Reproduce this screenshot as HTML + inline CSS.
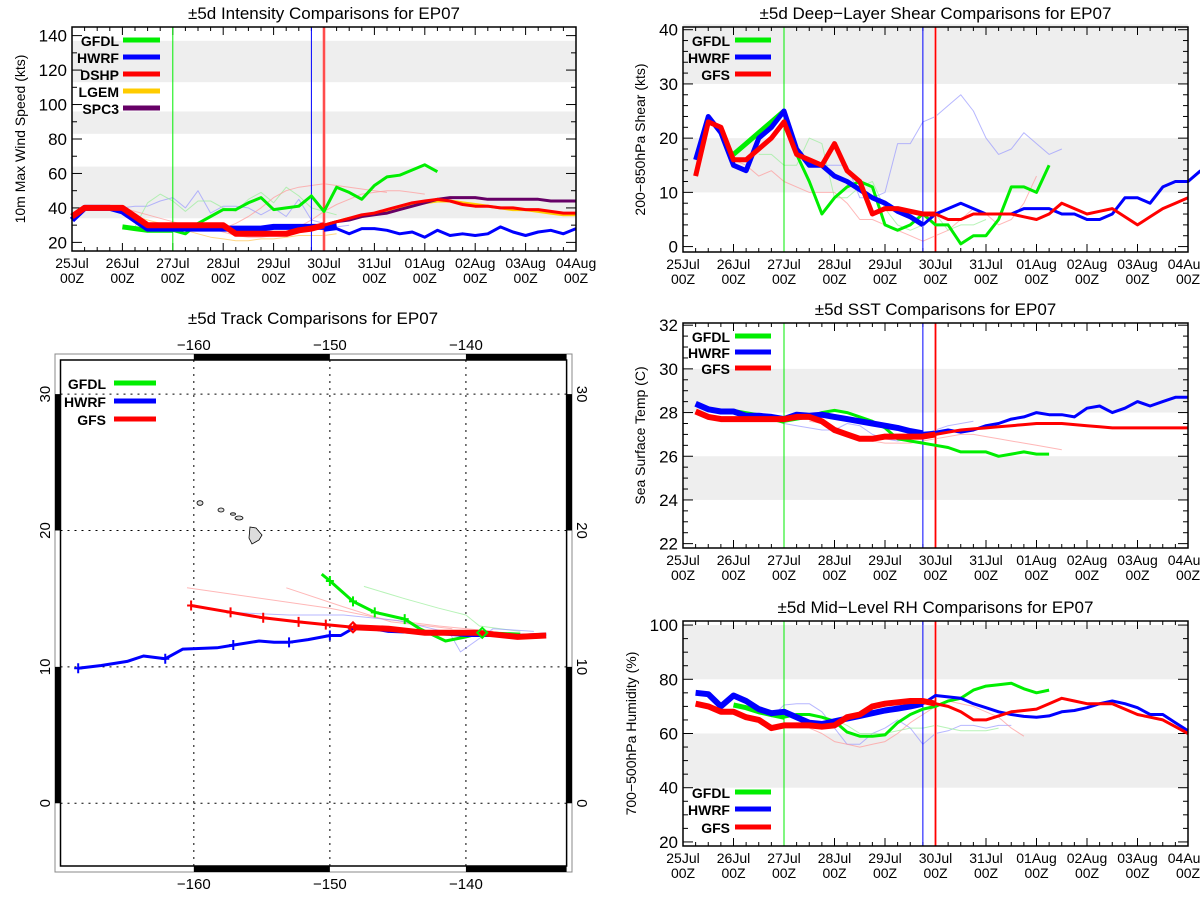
<!DOCTYPE html>
<html><head><meta charset="utf-8"><title>EP07 comparisons</title>
<style>
html,body{margin:0;padding:0;background:#fff;}
svg{display:block;font-family:"Liberation Sans",sans-serif;}
</style></head>
<body>
<svg id="fig" width="1200" height="900" viewBox="0 0 1200 900" xmlns="http://www.w3.org/2000/svg"></svg>
<script>
// ---------- DATA (days since 25Jul 00Z, 6-hourly) ----------
// Intensity
const intHwrfHist = [33,40,40,40,38,33,28,28,28,28,28,28,28,28,28,28,29,29,29,29,29,30];
const intHwrfFc = [27,28,25,28,28,27,25,26,23,27,24,25,24,25,29,26,24,26,27,25,28];
const intDshpHist = [35,40,40,40,40,35,30,30,30,30,30,30,30,25,25,25,25,25,27,28,30];
const intDshpFc = [30,32,34,36,37,39,41,43,44,45,44,42,41,41,40,40,39,39,38,37,37];
const intLgemFc = [30,32,34,35,37,38,40,42,43,44,44,43,42,41,40,39,39,38,37,36,36];
const intSpc3Fc = [30,32,33,35,36,37,39,41,43,45,46,46,46,45,45,45,45,45,44,44,44];
const intGfdlHist = [29,28,27,27,27];
const intGfdlFc = [27,25,31,35,39,39,43,46,39,40,41,47,38,52,49,45,53,58,59,62,65,61];
const intFadeBlue = [40,41,41,44,46,40,50,37,41,41,40,36,40,35,45,33,31,29,30];
const intFadeGreen = [29,43,48,44,38,44,44,40,38,45,49,43,52,47,40,38,36];
const intFadeRed1 = [40,38,36,34,32,30,28,27,28,31,35,40,46,50,52,53,54,53,52,51,50,49];
const intFadeRed2 = [30,28,26,24,23,23,24,26,29,33,38,42,45,48,49,50,50,49,48];
const intFadeOrange = [36,35,33,31,29,27,25,23,22,21,21,22,22,23,24,24,24,25];

// Shear
const shHwrfHist = [16,24,21,15,14,20,22,25,18,15,15,13,12,10.5,9,8,6.5,5.5,4];
const shHwrfFc = [4,6,7,8,7,6,6,6,7,7,7,6,6,5,5,6,9,9,8,11,12,12,14];
const shGfsHist = [13,23,22,16,16,18,20,23,17,16,15,19,14,12,6,7,7,6.5,6,6];
const shGfsFc = [6,5,5,6,6,6,6,5.5,5,6,8,7,6,6.5,7,5.5,4,5.5,7,8,9];
const shGfdlHist = [17,19,21,23,25];
const shGfdlFc = [25,17,12,6,9,11,12,11,4,3,4,6,4,4,0.5,2,2,5,11,11,10,15];
const shFadeBlue = [15,15,15,15,9,9,10,19,19,23,24,26,28,25,20,17,18,21,19,17,18];
const shFadeRed = [16,15,13,14,12,11,10,10,10,8,5,5,4,3,2,1,2,3,5,7,6,4,5,8,13];
const shFadeGreen = [17,17,15,15,20,19,9,9,11,12,7,4,3,4,6,3,4,4,5];

// SST
const sstHwrfHist = [28.4,28.15,28.05,28.05,27.85,27.85,27.8,27.7,27.9,27.85,27.9,27.8,27.7,27.6,27.5,27.4,27.3,27.15,27.05];
const sstHwrfFc = [27.05,27.1,27.2,27.1,27.2,27.4,27.5,27.7,27.8,28.0,27.9,27.9,27.8,28.2,28.3,28.0,28.2,28.5,28.3,28.5,28.7,28.7];
const sstGfsHist = [28.05,27.8,27.7,27.7,27.7,27.7,27.7,27.7,27.8,27.8,27.6,27.2,27.0,26.8,26.8,26.9,26.9,26.9,26.9,27.0];
const sstGfsFc = [27.0,27.1,27.2,27.25,27.3,27.35,27.4,27.45,27.5,27.5,27.5,27.45,27.4,27.35,27.3,27.3,27.3,27.3,27.3,27.3,27.3];
const sstGfdlHist = [28.05,27.95,27.85,27.75,27.6];
const sstGfdlFc = [27.6,27.7,27.8,28.0,28.1,28.0,27.8,27.6,27.3,26.8,26.7,26.6,26.5,26.4,26.2,26.2,26.2,26.0,26.1,26.2,26.1,26.1];
const sstFadeRed = [27.6,27.5,27.2,27.0,26.8,26.7,26.6,26.6,26.6,26.7,26.8,26.9,27.0,27.0,26.9,26.8,26.7,26.6,26.5,26.4,26.3];
const sstFadeBlue = [27.5,27.4,27.3,27.2,27.2,27.5,27.4,27.0,26.8,26.7,26.8,27.0,27.2,27.4,27.5,27.6];

// RH
const rhHwrfHist = [75,74.5,70,74,72,69,67.5,68,66,64,63.5,64.5,65.5,66.5,67.5,68.5,69.2,70,71];
const rhHwrfFc = [71,74,73.5,73,71,69.5,68,67,66.3,66,66.5,68,68.5,69.5,71,72,71,69.5,67,67,64,61];
const rhGfsHist = [71,70,68,68,66,65,62,63,63,63,62.5,63,66,67,70,71,71.5,72,72,71];
const rhGfsFc = [71,70,68,65,65,66.5,68,68.5,69,71,73,72,71,71,71,69,67,66,65,62.5,60];
const rhGfdlHist = [70.5,69.5,68,67,66];
const rhGfdlFc = [66,67,67,66,64.5,60.5,59,59,59.5,64,67,69,70,72,73,76,77.5,78,78.5,76.5,75,76];
const rhFadeBlue = [66,70.5,71,71,68,62,56,56,60,62,65,62,56,60,61,63,63,62,63,63];
const rhFadeRed = [64,63,62,60,57,56,55,56,57,60,64,67,70,72,71,70,68,66,62,59];
const rhFadeGreen = [65,63,60,60,60,61,62,62,63,62,61,61,61,62];

// Track (lon, lat)
const trkHwrfLon = [-168.5,-166.8,-164.9,-163.7,-162.1,-160.8,-158.3,-157.1,-155.2,-154.1,-153,-151.6,-150,-149.2,-148,-145.7,-143,-139.9,-136.2,-134.1];
const trkHwrfLat = [9.9,10.1,10.4,10.8,10.6,11.3,11.4,11.6,11.9,11.8,11.8,12.0,12.3,12.3,13.0,12.6,12.5,12.3,12.3,12.4];
const trkGfsLon = [-160.2,-157.3,-154.9,-152.3,-150.3,-148.3];
const trkGfsLat = [14.5,14.0,13.6,13.3,13.1,12.9];
const trkGfsHistLon = [-148.3,-145.7,-143,-139.1,-136.2,-134.1];
const trkGfsHistLat = [12.9,12.8,12.5,12.5,12.2,12.3];
const trkGfdlLon = [-150.6,-150,-148.3,-146.7,-144.5,-143.4,-141.5,-140,-138.8,-136];
const trkGfdlLat = [16.8,16.3,14.8,14.0,13.5,12.8,11.9,12.2,12.5,12.4];
const trkFadeRedLon = [-160.5,-150,-146,-142,-138];
const trkFadeRedLat = [15.8,14.3,13.5,13.0,12.6];
const trkFadeRed2Lon = [-153.2,-149,-145.5,-141];
const trkFadeRed2Lat = [15.8,14.4,13.3,12.8];
const trkFadeGreenLon = [-147.5,-144.5,-142,-140,-139,-136];
const trkFadeGreenLat = [15.9,15.0,14.3,13.8,13.0,12.6];
const trkFadeBlueLon = [-157.5,-153,-149,-145,-141.2,-140.4,-138,-135];
const trkFadeBlueLat = [14.0,13.8,13.8,13.4,12.5,11.1,12.8,12.6];
const trkMarkLon = [-148.3,-138.8];
const trkMarkLat = [12.9,12.5];

const dayLabels = ["25Jul","26Jul","27Jul","28Jul","29Jul","30Jul","31Jul","01Aug","02Aug","03Aug","04Aug"];

// ---------- DRAWING ----------
const NS = "http://www.w3.org/2000/svg";
const svg = document.getElementById("fig");
function el(tag, attrs, parent){
  const e = document.createElementNS(NS, tag);
  for (const k in attrs) e.setAttribute(k, attrs[k]);
  (parent||svg).appendChild(e);
  return e;
}
function txt(s, attrs, parent){ const t = el("text", attrs, parent); t.textContent = s; return t; }

const GREEN="#00ee00", BLUE="#0000ff", RED="#ff0000", ORANGE="#ffcc00", PURPLE="#660066";

function makePanel(name, box, ymin, ymax, yticks, yminor, bands, title, ytitle, ytitleX){
  const g = el("g", {});
  
  
  const [x0,y0,x1,y1] = box;
  const P = {g, x0,y0,x1,y1,
    X: d => x0 + (x1-x0)*d/10,
    Y: v => y1 - (y1-y0)*(v-ymin)/(ymax-ymin)};
  for (const b of bands){
    const r = el("rect",{x:x0,y:P.Y(b[1]),width:x1-x0,height:P.Y(b[0])-P.Y(b[1]),fill:"#eeeeee"},g);
    
    
  }
  for (let d=0; d<=10.001; d+=0.25){
    const major = Math.abs(d-Math.round(d))<1e-6;
    const L = major?8:4;
    el("line",{x1:P.X(d),x2:P.X(d),y1:y1,y2:y1-L,stroke:"#000","stroke-width":1},g);
    el("line",{x1:P.X(d),x2:P.X(d),y1:y0,y2:y0+L,stroke:"#000","stroke-width":1},g);
  }
  for (let v=yticks[0]; v<=yticks[1]+1e-6; v+=yminor){
    const major = Math.abs(((v-yticks[0])/yticks[2]) - Math.round((v-yticks[0])/yticks[2]))<1e-6;
    const L = major?10:5;
    el("line",{x1:x0,x2:x0+L,y1:P.Y(v),y2:P.Y(v),stroke:"#000","stroke-width":1},g);
    el("line",{x1:x1,x2:x1-L,y1:P.Y(v),y2:P.Y(v),stroke:"#000","stroke-width":1},g);
  }
  for (let v=yticks[0]; v<=yticks[1]+1e-6; v+=yticks[2]){
    const t = txt(String(v),{x:x0-5,y:P.Y(v)+6,"text-anchor":"end","font-size":17},g);
    
    
  }
  dayLabels.forEach((s,i)=>{
    const t = txt(s,{x:P.X(i),y:y1+17,"text-anchor":"middle","font-size":14},g);
    
    
    const t2 = txt("00Z",{x:P.X(i),y:y1+32,"text-anchor":"middle","font-size":14},g);
    
    
  });
  const tt = txt(title,{x:(x0+x1)/2,y:y0-8,"text-anchor":"middle","font-size":17},g);
  
  
  const yt = txt(ytitle,{x:ytitleX,y:(y0+y1)/2,"text-anchor":"middle","font-size":14,transform:`rotate(-90 ${ytitleX} ${(y0+y1)/2})`},g);
  
  
  P.frame = () => {
    const f = el("rect",{x:x0,y:y0,width:x1-x0,height:y1-y0,fill:"none",stroke:"#000","stroke-width":1.5},g);
    
    
  };
  return P;
}
function series(P, start, vals, color, w, op, name){
  const pts = vals.map((v,i)=>P.X(start+i*0.25).toFixed(1)+","+P.Y(v).toFixed(1)).join(" ");
  const p = el("polyline",{points:pts,fill:"none",stroke:color,"stroke-width":w,"stroke-opacity":op,"stroke-linejoin":"round"},P.g);
  
  
}
function vlines(P){
  const pink = el("line",{x1:P.X(5),x2:P.X(5),y1:P.y0,y2:P.y1,stroke:"#ff9999","stroke-width":3},P.g);
  
  
  [[2,GREEN,"gfdl-init-line"],[4.75,BLUE,"hwrf-init-line"],[5,RED,"gfs-init-line"]].forEach(a=>{
    const l = el("line",{x1:P.X(a[0]),x2:P.X(a[0]),y1:P.y0,y2:P.y1,stroke:a[1],"stroke-width":1},P.g);
    
    
  });
}
// textEnd: right edge of label; l0,l1: swatch extent
function legend(g, textEnd, l0, l1, ys, items){
  items.forEach((it,i)=>{
    const t = txt(it[0],{x:textEnd,y:ys[i]+6,"text-anchor":"end","font-size":14,"font-weight":"bold"},g);
    
    
    const l = el("line",{x1:l0,x2:l1,y1:ys[i],y2:ys[i],stroke:it[1],"stroke-width":5},g);
    
    
  });
}

// ---- Intensity panel ----
const PI = makePanel("intensity-panel",[72,27,576,251],15,145,[20,140,20],10,[[34,64],[83,96],[113,137]],"±5d Intensity Comparisons for EP07","10m Max Wind Speed (kts)",25);
series(PI,1.0,intFadeBlue,"#9999ff",1,0.7,"hwrf-old-forecast");
series(PI,1.25,intFadeGreen,"#99ee99",1,0.7,"gfdl-old-forecast");
series(PI,1.0,intFadeRed1,"#ff9999",1,0.7,"dshp-old-forecast");
series(PI,2.5,intFadeRed2,"#ff9999",1,0.7,"dshp-old-forecast-2");
series(PI,1.0,intFadeOrange,"#ffcc66",1,0.8,"lgem-old-forecast");
vlines(PI);
series(PI,1.0,intGfdlHist,GREEN,5,1,"gfdl-history");
series(PI,2.0,intGfdlFc,GREEN,3,1,"gfdl-forecast");
series(PI,0,intHwrfHist,BLUE,6,1,"hwrf-history");
series(PI,5.0,intHwrfFc,BLUE,3,1,"hwrf-forecast");
series(PI,5.0,intLgemFc,ORANGE,3,1,"lgem-forecast");
series(PI,5.0,intSpc3Fc,PURPLE,3,1,"spc3-forecast");
series(PI,0,intDshpHist,RED,6,1,"dshp-history");
series(PI,5.0,intDshpFc,RED,3,1,"dshp-forecast");
PI.frame();
legend(PI.g,119,123,160,[40,57,74,91,108],[["GFDL",GREEN],["HWRF",BLUE],["DSHP",RED],["LGEM",ORANGE],["SPC3",PURPLE]]);

// ---- Shear panel ----
const PS = makePanel("shear-panel",[683,27,1188,252],-1,40.5,[0,40,10],2,[[10,20],[30,41]],"±5d Deep−Layer Shear Comparisons for EP07","200−850hPa Shear (kts)",645);
series(PS,2.5,shFadeBlue,"#9999ff",1,0.7,"hwrf-old-forecast");
series(PS,1.0,shFadeRed,"#ff9999",1,0.7,"gfs-old-forecast");
series(PS,1.5,shFadeGreen,"#99ee99",1,0.7,"gfdl-old-forecast");
vlines(PS);
series(PS,1.0,shGfdlHist,GREEN,5,1,"gfdl-history");
series(PS,2.0,shGfdlFc,GREEN,3,1,"gfdl-forecast");
series(PS,0.25,shHwrfHist,BLUE,5,1,"hwrf-history");
series(PS,4.75,shHwrfFc,BLUE,3,1,"hwrf-forecast");
series(PS,0.25,shGfsHist,RED,5,1,"gfs-history");
series(PS,5.0,shGfsFc,RED,3,1,"gfs-forecast");
PS.frame();
legend(PS.g,730,735,771,[40,57,74],[["GFDL",GREEN],["HWRF",BLUE],["GFS",RED]]);

// ---- SST panel ----
const PT = makePanel("sst-panel",[683,323,1188,548],21.8,32.1,[22,32,2],0.5,[[24,26],[28,30]],"±5d SST Comparisons for EP07","Sea Surface Temp (C)",645);
series(PT,2.5,sstFadeRed,"#ff9999",1,0.7,"gfs-old-forecast");
series(PT,2.0,sstFadeBlue,"#9999ff",1,0.7,"hwrf-old-forecast");
vlines(PT);
series(PT,1.0,sstGfdlHist,GREEN,5,1,"gfdl-history");
series(PT,2.0,sstGfdlFc,GREEN,3,1,"gfdl-forecast");
series(PT,0.25,sstHwrfHist,BLUE,6,1,"hwrf-history");
series(PT,4.75,sstHwrfFc,BLUE,3,1,"hwrf-forecast");
series(PT,0.25,sstGfsHist,RED,6,1,"gfs-history");
series(PT,5.0,sstGfsFc,RED,3,1,"gfs-forecast");
PT.frame();
legend(PT.g,730,735,771,[336,352,368],[["GFDL",GREEN],["HWRF",BLUE],["GFS",RED]]);

// ---- RH panel ----
const PR = makePanel("rh-panel",[683,621,1188,846],18.5,101.5,[20,100,20],5,[[40,60],[80,100]],"±5d Mid−Level RH Comparisons for EP07","700−500hPa Humidity (%)",636);
series(PR,1.75,rhFadeBlue,"#9999ff",1,0.7,"hwrf-old-forecast");
series(PR,2.0,rhFadeRed,"#ff9999",1,0.7,"gfs-old-forecast");
series(PR,3.0,rhFadeGreen,"#99ee99",1,0.7,"gfdl-old-forecast");
vlines(PR);
series(PR,1.0,rhGfdlHist,GREEN,5,1,"gfdl-history");
series(PR,2.0,rhGfdlFc,GREEN,3,1,"gfdl-forecast");
series(PR,0.25,rhHwrfHist,BLUE,6,1,"hwrf-history");
series(PR,4.75,rhHwrfFc,BLUE,3,1,"hwrf-forecast");
series(PR,0.25,rhGfsHist,RED,6,1,"gfs-history");
series(PR,5.0,rhGfsFc,RED,3,1,"gfs-forecast");
PR.frame();
legend(PR.g,730,735,771,[792,809,827],[["GFDL",GREEN],["HWRF",BLUE],["GFS",RED]]);

// ---- Track panel ----
const TG = el("g",{});


const tb = {x0:60.5,x1:566.6,y0:360,y1:866,lon0:-169.8,lon1:-132.6,lat0:-4.6,lat1:32.5};
const LX = lon => tb.x0 + (tb.x1-tb.x0)*(lon-tb.lon0)/(tb.lon1-tb.lon0);
const LY = lat => tb.y1 - (tb.y1-tb.y0)*(lat-tb.lat0)/(tb.lat1-tb.lat0);
const tt = txt("±5d Track Comparisons for EP07",{x:313,y:324,"text-anchor":"middle","font-size":17},TG);


el("rect",{x:55,y:354,width:517,height:518,fill:"#fff",stroke:"#888","stroke-width":1},TG);
[[-160,-150],[-140,tb.lon1]].forEach(s=>{
  el("rect",{x:LX(s[0]),y:354,width:LX(s[1])-LX(s[0]),height:6,fill:"#000"},TG);
  el("rect",{x:LX(s[0]),y:866,width:LX(s[1])-LX(s[0]),height:6,fill:"#000"},TG);
});
[[20,30],[0,10]].forEach(s=>{
  el("rect",{x:55,y:LY(s[1]),width:5.5,height:LY(s[0])-LY(s[1]),fill:"#000"},TG);
  el("rect",{x:566.6,y:LY(s[1]),width:5.4,height:LY(s[0])-LY(s[1]),fill:"#000"},TG);
});
el("rect",{x:tb.x0,y:tb.y0,width:tb.x1-tb.x0,height:tb.y1-tb.y0,fill:"none",stroke:"#000","stroke-width":1.5},TG);
[-160,-150,-140].forEach(lon=>{
  const l = el("line",{x1:LX(lon),x2:LX(lon),y1:tb.y0,y2:tb.y1,stroke:"#000","stroke-width":1,"stroke-dasharray":"2,5"},TG);
  
  
  const a = txt(String(lon).replace("-","−"),{x:LX(lon),y:350,"text-anchor":"middle","font-size":15},TG);
  
  
  const b = txt(String(lon).replace("-","−"),{x:LX(lon),y:889,"text-anchor":"middle","font-size":15},TG);
  
  
});
[0,10,20,30].forEach(lat=>{
  const l = el("line",{x1:tb.x0,x2:tb.x1,y1:LY(lat),y2:LY(lat),stroke:"#000","stroke-width":1,"stroke-dasharray":"2,5"},TG);
  
  
  const a = txt(String(lat),{x:0,y:0,"text-anchor":"middle","font-size":15,transform:`translate(50 ${LY(lat)}) rotate(-90)`},TG);
  
  
  const b = txt(String(lat),{x:0,y:0,"text-anchor":"middle","font-size":15,transform:`translate(577 ${LY(lat)}) rotate(90)`},TG);
  
  
});
const isl = el("g",{fill:"#ddd",stroke:"#000","stroke-width":0.8},TG);


el("ellipse",{cx:200,cy:503,rx:3,ry:2.3},isl);
el("ellipse",{cx:221,cy:510,rx:3,ry:2},isl);
el("ellipse",{cx:233,cy:514,rx:2.5,ry:1.2},isl);
el("ellipse",{cx:239,cy:518,rx:4,ry:2},isl);
el("path",{d:"M250,527 L256,528 L262,535 L259,540 L252,544 L249,538 Z"},isl);
function track(lons, lats, color, w, op, name){
  const pts = lons.map((v,i)=>LX(v).toFixed(1)+","+LY(lats[i]).toFixed(1)).join(" ");
  const p = el("polyline",{points:pts,fill:"none",stroke:color,"stroke-width":w,"stroke-opacity":op,"stroke-linejoin":"round"},TG);
  
  
}
function crosses(lons, lats, color){
  lons.forEach((v,i)=>{
    const x = LX(v), y = LY(lats[i]);
    const c = el("path",{d:`M${x-4},${y} H${x+4} M${x},${y-5} V${y+5}`,stroke:color,"stroke-width":2},TG);
    
    
  });
}
track(trkFadeRedLon,trkFadeRedLat,"#ff9999",1,0.7,"gfs-old-track");
track(trkFadeRed2Lon,trkFadeRed2Lat,"#ff9999",1,0.7,"gfs-old-track-2");
track(trkFadeGreenLon,trkFadeGreenLat,"#99ee99",1,0.7,"gfdl-old-track");
track(trkFadeBlueLon,trkFadeBlueLat,"#9999ff",1,0.7,"hwrf-old-track");
track(trkGfdlLon,trkGfdlLat,GREEN,3,1,"gfdl-track");
crosses(trkGfdlLon.slice(1,5),trkGfdlLat.slice(1,5),GREEN);
track(trkHwrfLon,trkHwrfLat,BLUE,3,1,"hwrf-track");
crosses([-168.5,-162.1,-157.1,-153,-150],[9.9,10.6,11.6,11.8,12.3],BLUE);
track(trkGfsLon,trkGfsLat,RED,3,1,"gfs-track");
crosses(trkGfsLon.slice(0,5),trkGfsLat.slice(0,5),RED);
track(trkGfsHistLon,trkGfsHistLat,RED,6,1,"gfs-track-history");
trkMarkLon.forEach((v,i)=>{
  const x = LX(v), y = LY(trkMarkLat[i]);
  const d = el("path",{d:`M${x},${y-5} L${x+5},${y} L${x},${y+5} L${x-5},${y} Z`,fill:"none",stroke:i===0?RED:GREEN,"stroke-width":2},TG);
  
  
});
legend(TG,106,114,156,[383,401,419],[["GFDL",GREEN],["HWRF",BLUE],["GFS",RED]]);
</script>
</body></html>
